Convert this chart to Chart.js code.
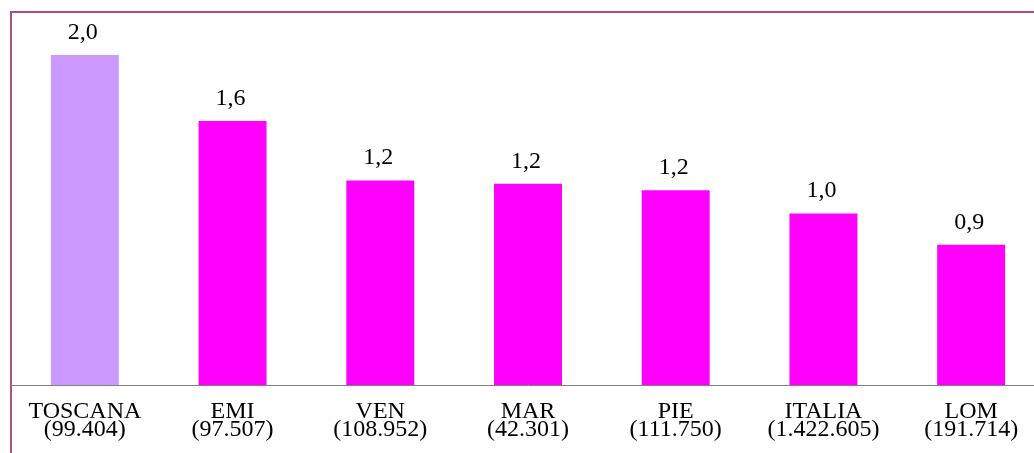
<!DOCTYPE html>
<html>
<head>
<meta charset="utf-8">
<script src="https://cdn.jsdelivr.net/npm/chart.js@4.4.1/dist/chart.umd.min.js"></script>
<style>
  html, body { margin: 0; padding: 0; background: #fff; overflow: hidden; }
  #wrap { position: absolute; left: 0; top: 0; width: 1050px; height: 453px; }
</style>
</head>
<body>
<div id="wrap"><canvas id="chart"></canvas></div>
<script>
// regions with population in brackets
const regions = ['TOSCANA', 'EMI', 'VEN', 'MAR', 'PIE', 'ITALIA', 'LOM'];
const population = ['(99.404)', '(97.507)', '(108.952)', '(42.301)', '(111.750)', '(1.422.605)', '(191.714)'];
const values = [2.0, 1.6, 1.24, 1.22, 1.18, 1.04, 0.85];
const barColors = ['#cc99ff', '#ff00ff', '#ff00ff', '#ff00ff', '#ff00ff', '#ff00ff', '#ff00ff'];

const FONT = "'Liberation Serif', 'Times New Roman', serif";

function fmt(v) {
    return (Math.round(v * 10) / 10).toFixed(1).replace('.', ',');
}

// frame lines on top and left side
const framePlugin = {
    id: 'frame',
    beforeDraw(chart) {
        const ctx = chart.ctx;
        ctx.save();
        ctx.strokeStyle = '#b24c84';
        ctx.lineWidth = 2;
        ctx.beginPath();
        ctx.moveTo(11, 453);
        ctx.lineTo(11, 12);
        ctx.lineTo(chart.width, 12);
        ctx.stroke();
        ctx.restore();
    }
};

const valueLabels = {
    id: 'valueLabels',
    afterDatasetsDraw(chart) {
        const ctx = chart.ctx;
        const meta = chart.getDatasetMeta(0);
        ctx.save();
        ctx.font = '24px ' + FONT;
        ctx.fillStyle = '#000';
        ctx.textAlign = 'center';
        ctx.textBaseline = 'alphabetic';
        meta.data.forEach((bar, i) => {
            ctx.fillText(fmt(values[i]), bar.x - 2, bar.y - 16);
        });
        ctx.restore();
    }
};

new Chart(document.getElementById('chart').getContext('2d'), {
    type: 'bar',
    data: {
        labels: regions.map((r, i) => [r, population[i]]),
        datasets: [{
            data: values,
            backgroundColor: barColors,
            borderWidth: 0,
            categoryPercentage: 1,
            barPercentage: 0.46
        }]
    },
    options: {
        responsive: true,
        maintainAspectRatio: false,
        animation: false,
        layout: { padding: { left: 11, right: 5, top: 11, bottom: 0 } },
        plugins: { legend: { display: false }, tooltip: { enabled: false } },
        scales: {
            x: {
                grid: { display: false, drawTicks: false },
                border: { display: true, color: '#808080', width: 1 },
                ticks: {
                    color: '#000',
                    padding: 18,
                    maxRotation: 0,
                    font: { family: FONT, size: 24, lineHeight: 0.75 }
                },
                afterFit(scale) { scale.height = 68; }
            },
            y: {
                display: false,
                min: 0,
                max: 374 / 165
            }
        }
    },
    plugins: [framePlugin, valueLabels]
});
</script>
</body>
</html>
